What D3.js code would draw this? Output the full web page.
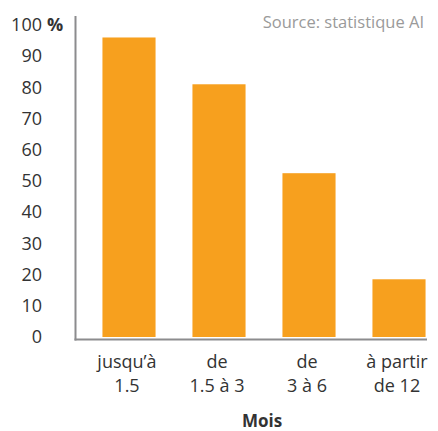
<!DOCTYPE html>
<html>
<head>
<meta charset="utf-8">
<script src="https://cdn.jsdelivr.net/npm/d3@7"></script>
<style>
  body { margin: 0; background: #fff; }
  svg text { font-family: "Open Sans", sans-serif; }
</style>
</head>
<body>
<div id="chart"></div>
<script>
// data
let categories = [["jusqu\u2019à", "1.5"], ["de", "1.5 à 3"], ["de", "3 à 6"], ["à partir", "de 12"]];
let values = [96, 81, 52.5, 18.5];
let tickValues = [0, 10, 20, 30, 40, 50, 60, 70, 80, 90, 100];

let width = 438, height = 431;

let svg = d3.select("#chart").append("svg")
    .attr("width", width)
    .attr("height", height);

// scales
let x = d3.scaleBand()
    .domain(d3.range(values.length))
    .range([84, 444])
    .paddingInner(0.41)
    .paddingOuter(0.205);

let y = d3.scaleLinear()
    .domain([0, 100])
    .range([337, 25]);

// bars
svg.append("g").selectAll("rect")
    .data(values)
    .join("rect")
    .attr("x", (d, i) => x(i))
    .attr("y", d => y(d))
    .attr("width", x.bandwidth())
    .attr("height", d => y(0) - y(d))
    .attr("fill", "#f7a01e");

// axis frame
svg.append("line")
    .attr("x1", 75.5).attr("x2", 75.5)
    .attr("y1", 16).attr("y2", 340.5)
    .attr("stroke", "#8c8c8e").attr("stroke-width", 2);
svg.append("line")
    .attr("x1", 74.5).attr("x2", 427)
    .attr("y1", 339.5).attr("y2", 339.5)
    .attr("stroke", "#8c8c8e").attr("stroke-width", 2);

// y axis labels
let yAxis = svg.append("g")
    .attr("transform", "translate(76,0)")
    .call(d3.axisLeft(y).tickValues(tickValues).tickSize(0).tickPadding(34));
yAxis.select(".domain").remove();
yAxis.selectAll("text")
    .attr("font-family", "Open Sans, sans-serif")
    .attr("font-size", 18)
    .attr("fill", "#333");

svg.append("text")
    .attr("x", 47)
    .attr("y", y(100))
    .attr("dy", "0.32em")
    .attr("font-size", 18)
    .attr("font-weight", "bold")
    .attr("fill", "#333")
    .text("%");

// category labels
let catLabels = svg.append("g").selectAll("text")
    .data(categories)
    .join("text")
    .attr("x", (d, i) => x(i) + x.bandwidth() / 2 - 2)
    .attr("y", 368)
    .attr("text-anchor", "middle")
    .attr("font-size", 18)
    .attr("fill", "#333");
catLabels.append("tspan")
    .attr("x", (d, i) => x(i) + x.bandwidth() / 2 - 2)
    .text(d => d[0]);
catLabels.append("tspan")
    .attr("x", (d, i) => x(i) + x.bandwidth() / 2 - 2)
    .attr("dy", 23.5)
    .text(d => d[1]);

// x axis title
svg.append("text")
    .attr("x", 262)
    .attr("y", 427)
    .attr("text-anchor", "middle")
    .attr("font-size", 17)
    .attr("font-weight", "bold")
    .attr("fill", "#333")
    .text("Mois");

// source
svg.append("text")
    .attr("x", 424)
    .attr("y", 28)
    .attr("text-anchor", "end")
    .attr("font-size", 16.5)
    .attr("fill", "#9a9a9a")
    .text("Source: statistique AI");
</script>
</body>
</html>
